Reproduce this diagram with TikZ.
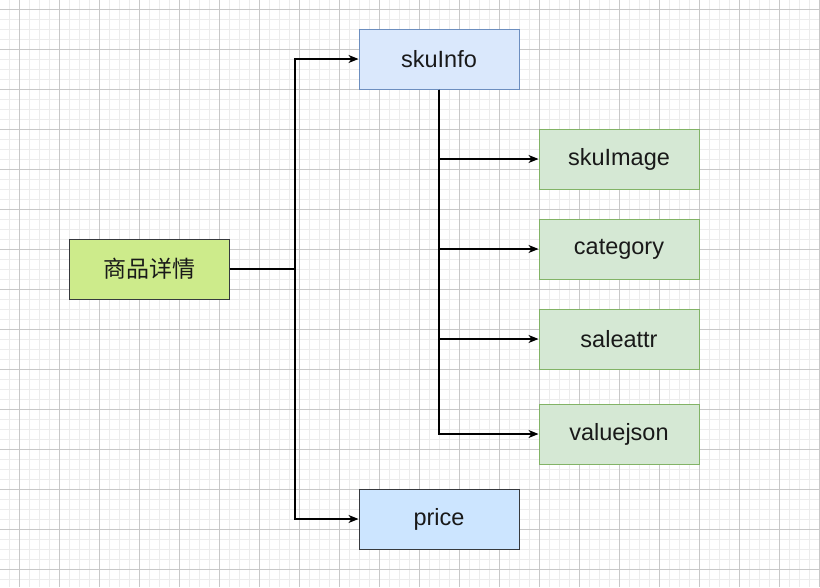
\documentclass[tikz,border=0pt]{standalone}
\usepackage{fontspec}
\setmainfont{Liberation Sans}
\newfontfamily\cjk{Noto Sans CJK SC}
\usetikzlibrary{arrows.meta}
\definecolor{gridmajor}{RGB}{200,200,200}
\definecolor{gridminor}{RGB}{236,236,236}
\definecolor{mainfill}{RGB}{205,235,139}
\definecolor{darkline}{RGB}{54,57,61}
\definecolor{bluefill}{RGB}{218,232,252}
\definecolor{blueline}{RGB}{108,142,191}
\definecolor{greenfill}{RGB}{213,232,212}
\definecolor{greenline}{RGB}{130,179,102}
\definecolor{pricefill}{RGB}{204,229,255}
\tikzset{
  minorgrid/.style={draw=gridminor, line width=1pt},
  majorgrid/.style={draw=gridmajor, line width=1pt},
  box/.style={rectangle, minimum width=160pt, minimum height=60pt, inner sep=0pt, line width=1pt, font=\fontsize{23.5}{28}\selectfont, text=black!90},
  mainbox/.style={box, fill=mainfill, draw=darkline},
  bluebox/.style={box, fill=bluefill, draw=blueline},
  greenbox/.style={box, fill=greenfill, draw=greenline},
  pricebox/.style={box, fill=pricefill, draw=darkline},
  conn/.style={draw=black, line width=1.2pt},
  arr/.style={conn, -{Stealth[length=10pt, width=8pt, inset=3pt]}}
}
\begin{document}
\begin{tikzpicture}[x=1pt, y=-1pt]
\useasboundingbox (0,0) rectangle (820,587);
\fill[white] (0,0) rectangle (820,587);
\foreach \i in {9,29,39,49,...,819} \draw[minorgrid] (\i,0) -- (\i,587);
\foreach \j in {19,29,39,59,69,79,...,579} \draw[minorgrid] (0,\j) -- (820,\j);
\foreach \i in {19,59,...,819} \draw[majorgrid] (\i,0) -- (\i,587);
\foreach \j in {9,49,...,569} \draw[majorgrid] (0,\j) -- (820,\j);

\node[mainbox] (main) at (149,269) {\raisebox{-1.5pt}{\cjk\fontsize{23}{28}\selectfont 商品详情}};
\node[bluebox] (skuinfo) at (439,59) {\raisebox{-2pt}{skuInfo}};
\node[pricebox] (price) at (439,519) {\raisebox{-2pt}{price}};
\node[greenbox] (skuimage) at (619,159) {\raisebox{-2pt}{skuImage}};
\node[greenbox] (category) at (619,249) {\raisebox{-2pt}{category}};
\node[greenbox] (saleattr) at (619,339) {\raisebox{-2pt}{saleattr}};
\node[greenbox] (valuejson) at (619,434) {\raisebox{-2pt}{valuejson}};

\coordinate (j1) at (295,269);
\draw[conn] (main.east) -- (j1);
\draw[arr] (j1) |- (skuinfo.west);
\draw[arr] (j1) |- (price.west);
\draw[arr] (skuinfo.south) |- (skuimage.west);
\draw[arr] (skuinfo.south) |- (category.west);
\draw[arr] (skuinfo.south) |- (saleattr.west);
\draw[arr] (skuinfo.south) |- (valuejson.west);
\end{tikzpicture}
\end{document}
